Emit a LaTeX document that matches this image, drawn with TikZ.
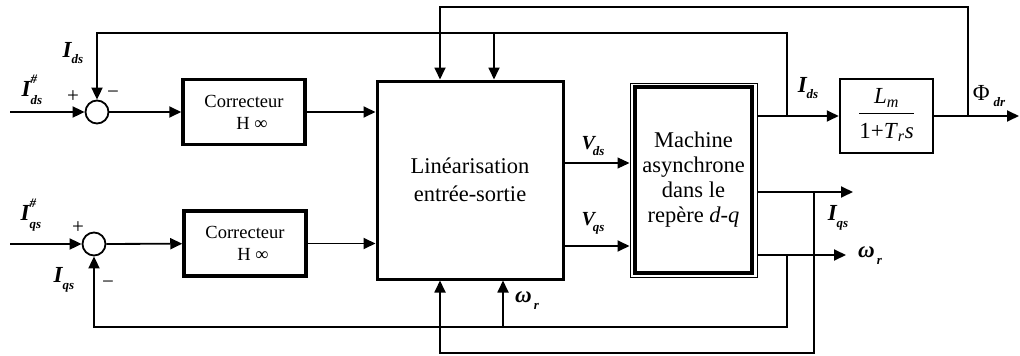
\documentclass[tikz,border=0pt]{standalone}
\usepackage{fontspec}
\setmainfont{Liberation Serif}
\usetikzlibrary{arrows.meta}
\newcommand{\subfs}{\fontsize{13}{13}\selectfont\bfseries\itshape}
\newcommand{\BSub}[2]{{\bfseries\itshape #1}\raisebox{-0.3em}{\subfs #2}}
\newcommand{\BSupSub}[2]{{\bfseries\itshape #1}\makebox[0pt][l]{\raisebox{0.55em}{\subfs\#}}\raisebox{-0.35em}{\subfs #2}}
\begin{document}
\begin{tikzpicture}[x=1pt,y=-1pt,
  wire/.style={line width=1.8pt},
  thinwire/.style={line width=1.2pt},
  arr/.style={wire,-{Triangle[length=12pt,width=11pt]}},
  tarr/.style={thinwire,-{Triangle[length=12pt,width=11pt]}},
  sumnode/.style={circle,draw,line width=1.8pt,minimum size=23pt,inner sep=0pt},
  corbox/.style={draw,line width=3.5pt,minimum width=122pt,minimum height=65pt,align=center,font=\fontsize{18.5}{22}\selectfont},
  linbox/.style={draw,line width=3pt,minimum width=186pt,minimum height=198pt,align=center,font=\fontsize{22.5}{28}\selectfont},
  machbox/.style={draw,line width=1pt,minimum width=127pt,minimum height=194pt,align=center,font=\fontsize{22.5}{25}\selectfont},
  tfbox/.style={draw,line width=2.5pt,minimum width=93pt,minimum height=74pt,inner sep=0pt,font=\fontsize{23}{24}\selectfont},
  lab/.style={inner sep=0pt,font=\fontsize{23}{23}\selectfont},
  vlab/.style={inner sep=0pt,font=\fontsize{20}{20}\selectfont},
  sign/.style={inner sep=0pt,font=\fontsize{21}{21}\selectfont}
]
\useasboundingbox (0,0) rectangle (1020,356);

% blocks
\node[sumnode] (s1) at (97,112) {};
\node[sumnode] (s2) at (94,244) {};
\node[corbox] (c1) at (244,112) {Correcteur\\\hspace*{16pt}H ∞};
\node[corbox] (c2) at (245,243.5) {Correcteur\\\hspace*{16pt}H ∞};
\node[linbox] (lin) at (470,180) {Linéarisation\\entrée-sortie};
\node[machbox] (mach) at (693.5,180) {Machine\\asynchrone\\dans le\\repère \textit{d-q}};
\draw[line width=4pt] ([shift={(5.5,4.5)}]mach.north west) rectangle ([shift={(-5.5,-4.5)}]mach.south east);
\node[tfbox] (tf) at (886.5,116) {\setlength{\arrayrulewidth}{1.5pt}\begin{tabular}{@{}c@{}}\textit{L}\textsubscript{\textit{m}}\\[2pt]\hline\rule{0pt}{24pt}1+\textit{T}\textsubscript{\textit{r}}\textit{s}\end{tabular}};

% coordinates
\coordinate (in1) at (10,112);
\coordinate (in2) at (10,244);
\coordinate (tA) at (787,33);
\coordinate (tA2) at (494,33);
\coordinate (jId) at (787,116);
\coordinate (tB) at (968,7);
\coordinate (tB2) at (440,7);
\coordinate (jPhi) at (968,116);
\coordinate (out1) at (1019,116);
\coordinate (vd) at (600,163);
\coordinate (vq) at (600,246);
\coordinate (oq) at (853,192);
\coordinate (ow) at (846,255);
\coordinate (jq) at (814,192);
\coordinate (jw) at (787,255);
\coordinate (bq) at (814,353);
\coordinate (bq2) at (440,353);
\coordinate (bw) at (787,327);
\coordinate (bwr) at (503,327);

% connectors
\draw[arr] (in1) -- (s1.west);
\draw[arr] (s1) -- (c1);
\draw[arr] (c1) -- (c1 -| lin.west);
\draw[arr] (in2) -- (s2.west);
\draw[arr] (s2) -- (c2);
\draw[arr] (c2) -- (c2 -| lin.west);
\draw[arr] (jId) -- (tA) -| (s1.north);
\draw[arr] (tA2) -- (tA2 |- lin.north);
\draw[arr] (jPhi) -- (tB) -- (tB2) -- (tB2 |- lin.north);
\draw[tarr] (vd -| lin.east) -- (vd -| mach.west);
\draw[arr] (vq -| lin.east) -- (vq -| mach.west);
\draw[arr] (mach.east |- tf) -- (tf);
\draw[arr] (tf) -- (out1);
\draw[arr] (mach.east |- oq) -- (oq);
\draw[arr] (mach.east |- ow) -- (ow);
\draw[arr] (jq) -- (bq) -- (bq2) -- (bq2 |- lin.south);
\draw[arr] (jw) -- (bw) -| (s2.south);
\draw[arr] (bwr) -- (bwr |- lin.south);

% labels
\node[lab] (lIds1) at (73,53) {\BSub{I}{ds}};
\node[lab] (lIdsr) at (32,90) {\BSupSub{I}{ds}};
\node[sign] (p1) at (73,97) {+};
\node[sign] (m1) at (113,95) {−};
\node[lab] (lIqsr) at (31,215) {\BSupSub{I}{qs}};
\node[sign] (p2) at (78,228) {+};
\node[sign] (m2) at (108,285) {−};
\node[lab] (lIqs1) at (64,280) {\BSub{I}{qs}};
\node[vlab] (lVds) at (593,146) {\BSub{V}{\kern-2pt ds}};
\node[vlab] (lVqs) at (593,223) {\BSub{V}{\kern-2pt qs}};
\node[lab] (lIds2) at (808,88) {\BSub{I}{ds}};
\node[lab] (lPhi) at (989,96) {Φ\,\raisebox{-0.3em}{\subfs dr}};
\node[lab] (lIqs2) at (838,218) {\BSub{I}{qs}};
\node[lab] (lw1) at (870,256) {\BSub{ω}{\,r}};
\node[lab] (lw2) at (527,301) {\BSub{ω}{\,r}};
\end{tikzpicture}
\end{document}
